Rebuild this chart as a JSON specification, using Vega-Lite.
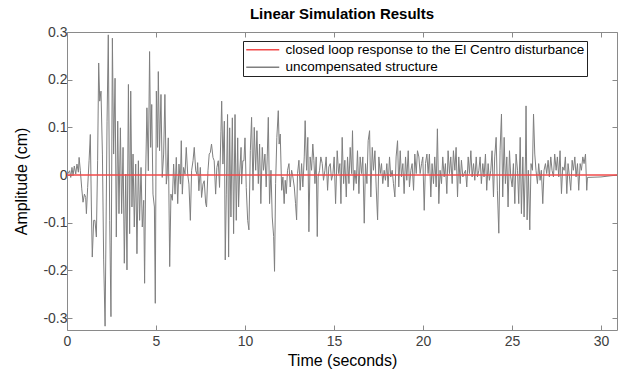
{
  "$schema": "https://vega.github.io/schema/vega-lite/v6.json",
  "width": 550,
  "height": 298,
  "autosize": "none",
  "padding": {"left": 67, "top": 32, "right": 10, "bottom": 49},
  "background": "white",
  "title": {"text": "Linear Simulation Results", "font": "Liberation Sans", "fontSize": 15, "fontWeight": "bold", "color": "black", "anchor": "middle", "offset": 3},
  "datasets": {
    "unc": [
      {"t":0,"v":0},{"t":0.15,"v":0.009},{"t":0.21,"v":-0.005},{"t":0.28,"v":0.016},{"t":0.34,"v":-0.001},{"t":0.41,"v":0.019},{"t":0.49,"v":0.002},{"t":0.56,"v":0.023},{"t":0.64,"v":0.006},{"t":0.68,"v":0.037},{"t":0.75,"v":0.009},{"t":0.83,"v":-0.029},{"t":0.90,"v":-0.057},{"t":0.98,"v":-0.040},{"t":1.05,"v":-0.047},{"t":1.09,"v":-0.081},{"t":1.16,"v":-0.026},{"t":1.24,"v":0.030},{"t":1.31,"v":0.085},{"t":1.37,"v":-0.067},{"t":1.42,"v":-0.172},{"t":1.50,"v":-0.095},{"t":1.57,"v":-0.095},{"t":1.65,"v":-0.130},{"t":1.72,"v":0.030},{"t":1.78,"v":0.235},{"t":1.84,"v":0.155},{"t":1.91,"v":0.176},{"t":1.99,"v":0.044},{"t":2.06,"v":-0.178},{"t":2.14,"v":-0.317},{"t":2.25,"v":0.113},{"t":2.32,"v":0.294},{"t":2.40,"v":-0.095},{"t":2.47,"v":-0.297},{"t":2.55,"v":0.287},{"t":2.62,"v":0.044},{"t":2.70,"v":0.203},{"t":2.77,"v":-0.130},{"t":2.85,"v":0.113},{"t":2.92,"v":-0.081},{"t":3.00,"v":0.099},{"t":3.07,"v":-0.081},{"t":3.15,"v":0.058},{"t":3.22,"v":-0.185},{"t":3.30,"v":0.002},{"t":3.37,"v":-0.199},{"t":3.45,"v":0.190},{"t":3.52,"v":-0.123},{"t":3.58,"v":0.176},{"t":3.65,"v":-0.067},{"t":3.71,"v":0.044},{"t":3.78,"v":-0.109},{"t":3.86,"v":0.023},{"t":3.93,"v":-0.165},{"t":4.01,"v":0.030},{"t":4.08,"v":-0.095},{"t":4.16,"v":0.016},{"t":4.23,"v":-0.109},{"t":4.31,"v":-0.053},{"t":4.36,"v":-0.227},{"t":4.42,"v":0.002},{"t":4.49,"v":0.141},{"t":4.57,"v":0.009},{"t":4.64,"v":0.259},{"t":4.70,"v":0.058},{"t":4.76,"v":0.148},{"t":4.83,"v":-0.040},{"t":4.91,"v":-0.067},{"t":4.96,"v":-0.269},{"t":5.02,"v":0.176},{"t":5.09,"v":0.058},{"t":5.13,"v":0.217},{"t":5.20,"v":0.051},{"t":5.28,"v":0.169},{"t":5.35,"v":-0.005},{"t":5.43,"v":0.044},{"t":5.50,"v":0.169},{"t":5.58,"v":-0.019},{"t":5.63,"v":0.002},{"t":5.69,"v":0.078},{"t":5.77,"v":-0.192},{"t":5.84,"v":-0.040},{"t":5.92,"v":-0.053},{"t":5.99,"v":0.023},{"t":6.07,"v":-0.040},{"t":6.14,"v":0.037},{"t":6.22,"v":-0.060},{"t":6.29,"v":0.023},{"t":6.37,"v":-0.019},{"t":6.42,"v":0.072},{"t":6.48,"v":-0.040},{"t":6.55,"v":0.016},{"t":6.63,"v":0.002},{"t":6.70,"v":0.058},{"t":6.78,"v":0.002},{"t":6.85,"v":-0.019},{"t":6.93,"v":-0.095},{"t":7.00,"v":0.009},{"t":7.08,"v":0.030},{"t":7.15,"v":0.058},{"t":7.23,"v":0.009},{"t":7.30,"v":0.002},{"t":7.34,"v":0.026},{"t":7.41,"v":-0.033},{"t":7.49,"v":0.016},{"t":7.56,"v":-0.047},{"t":7.64,"v":-0.019},{"t":7.71,"v":-0.012},{"t":7.79,"v":-0.059},{"t":7.84,"v":-0.067},{"t":7.92,"v":0.009},{"t":7.99,"v":0.044},{"t":8.05,"v":0.047},{"t":8.12,"v":0.065},{"t":8.20,"v":0.037},{"t":8.27,"v":0.030},{"t":8.35,"v":-0.040},{"t":8.42,"v":0.016},{"t":8.50,"v":0.030},{"t":8.57,"v":-0.026},{"t":8.65,"v":0.092},{"t":8.69,"v":0.155},{"t":8.76,"v":0.023},{"t":8.84,"v":0.113},{"t":8.89,"v":-0.178},{"t":8.95,"v":-0.040},{"t":9.02,"v":0.127},{"t":9.08,"v":-0.172},{"t":9.14,"v":0.099},{"t":9.21,"v":-0.088},{"t":9.29,"v":0.120},{"t":9.36,"v":-0.123},{"t":9.44,"v":0.127},{"t":9.51,"v":-0.095},{"t":9.59,"v":0.078},{"t":9.64,"v":-0.067},{"t":9.70,"v":0.002},{"t":9.78,"v":0.058},{"t":9.81,"v":-0.019},{"t":9.88,"v":0.030},{"t":9.94,"v":0.030},{"t":10.00,"v":0.078},{"t":10.07,"v":-0.026},{"t":10.15,"v":-0.095},
      {"t":10.22,"v":-0.115},{"t":10.30,"v":0.051},{"t":10.37,"v":0.121},{"t":10.45,"v":-0.032},{"t":10.52,"v":0.100},{"t":10.60,"v":0.010},{"t":10.67,"v":0.093},{"t":10.75,"v":-0.018},{"t":10.82,"v":0.065},{"t":10.89,"v":-0.060},{"t":10.97,"v":0.058},{"t":11.04,"v":0.010},{"t":11.12,"v":0.044},{"t":11.19,"v":-0.025},{"t":11.25,"v":0.038},{"t":11.31,"v":0.121},{"t":11.38,"v":-0.060},{"t":11.46,"v":0.010},{"t":11.53,"v":-0.088},{"t":11.61,"v":-0.129},{"t":11.66,"v":-0.202},{"t":11.72,"v":-0.018},{"t":11.79,"v":0.079},{"t":11.87,"v":0.135},{"t":11.92,"v":0.065},{"t":11.98,"v":0.086},{"t":12.06,"v":-0.032},{"t":12.13,"v":-0.004},{"t":12.20,"v":-0.060},{"t":12.26,"v":-0.011},{"t":12.32,"v":-0.039},{"t":12.39,"v":0.010},{"t":12.47,"v":0.024},{"t":12.54,"v":-0.025},{"t":12.62,"v":0.010},{"t":12.69,"v":-0.004},{"t":12.77,"v":-0.025},{"t":12.84,"v":-0.060},{"t":12.90,"v":-0.094},{"t":12.95,"v":0.003},{"t":13.03,"v":0.031},{"t":13.10,"v":-0.032},{"t":13.18,"v":0.024},{"t":13.25,"v":-0.025},{"t":13.33,"v":0.038},{"t":13.38,"v":0.114},{"t":13.46,"v":0.010},{"t":13.53,"v":0.079},{"t":13.59,"v":-0.119},{"t":13.66,"v":0.038},{"t":13.74,"v":0.010},{"t":13.81,"v":0.065},{"t":13.87,"v":0.031},{"t":13.93,"v":-0.018},{"t":14.00,"v":0.038},{"t":14.06,"v":-0.129},{"t":14.11,"v":-0.004},{"t":14.19,"v":0.010},{"t":14.26,"v":0.038},{"t":14.34,"v":0.024},{"t":14.41,"v":-0.011},{"t":14.49,"v":0.010},{"t":14.56,"v":0.038},{"t":14.64,"v":-0.032},{"t":14.71,"v":0.017},{"t":14.79,"v":0.024},{"t":14.86,"v":-0.011},{"t":14.94,"v":0.003},{"t":15.01,"v":0.038},{"t":15.09,"v":-0.060},{"t":15.18,"v":0.051},
      {"t":15.26,"v":0.003},{"t":15.33,"v":0.024},{"t":15.39,"v":-0.060},{"t":15.46,"v":0.079},{"t":15.54,"v":-0.018},{"t":15.61,"v":0.031},{"t":15.69,"v":-0.046},{"t":15.76,"v":0.038},{"t":15.84,"v":-0.018},{"t":15.91,"v":0.058},{"t":15.99,"v":0.003},{"t":16.04,"v":0.093},{"t":16.10,"v":-0.032},{"t":16.17,"v":0.010},{"t":16.25,"v":-0.018},{"t":16.32,"v":0.051},{"t":16.40,"v":-0.039},{"t":16.47,"v":0.038},{"t":16.55,"v":0.003},{"t":16.62,"v":0.038},{"t":16.70,"v":-0.101},{"t":16.77,"v":0.024},{"t":16.85,"v":-0.018},{"t":16.92,"v":0.072},{"t":17.00,"v":0.093},{"t":17.07,"v":-0.046},{"t":17.15,"v":0.058},{"t":17.22,"v":0.010},{"t":17.30,"v":0.051},{"t":17.37,"v":-0.025},{"t":17.45,"v":-0.094},{"t":17.52,"v":0.038},{"t":17.60,"v":0.003},{"t":17.67,"v":0.024},{"t":17.74,"v":-0.018},{"t":17.82,"v":0.010},{"t":17.89,"v":-0.011},{"t":17.97,"v":0.024},{"t":18.04,"v":-0.025},{"t":18.12,"v":0.038},{"t":18.19,"v":-0.004},{"t":18.27,"v":0.010},{"t":18.34,"v":-0.018},{"t":18.42,"v":-0.046},{"t":18.49,"v":0.038},{"t":18.57,"v":0.072},{"t":18.64,"v":-0.025},{"t":18.72,"v":0.051},{"t":18.79,"v":-0.004},{"t":18.87,"v":0.024},{"t":18.94,"v":-0.039},{"t":19.02,"v":0.038},{"t":19.09,"v":-0.011},{"t":19.17,"v":0.051},{"t":19.24,"v":-0.025},{"t":19.32,"v":0.010},{"t":19.39,"v":0.024},{"t":19.47,"v":-0.032},{"t":19.54,"v":0.044},{"t":19.62,"v":0.003},{"t":19.69,"v":0.051},{"t":19.77,"v":0.038},{"t":19.84,"v":0.003},{"t":19.92,"v":0.024},{"t":19.99,"v":0.038},{"t":20.07,"v":-0.074},{"t":20.14,"v":0.024},{"t":20.22,"v":0.044},{"t":20.29,"v":0.003},
      {"t":20.36,"v":0.044},{"t":20.44,"v":-0.046},{"t":20.51,"v":0.024},{"t":20.59,"v":-0.018},{"t":20.66,"v":0.038},{"t":20.74,"v":-0.025},{"t":20.81,"v":0.097},{"t":20.89,"v":-0.060},{"t":20.96,"v":0.010},{"t":21.04,"v":-0.018},{"t":21.11,"v":0.038},{"t":21.19,"v":-0.004},{"t":21.26,"v":0.024},{"t":21.34,"v":-0.039},{"t":21.41,"v":0.051},{"t":21.49,"v":0.003},{"t":21.56,"v":0.038},{"t":21.64,"v":-0.018},{"t":21.71,"v":0.051},{"t":21.79,"v":0.010},{"t":21.86,"v":0.058},{"t":21.94,"v":-0.046},{"t":22.01,"v":0.038},{"t":22.09,"v":-0.018},{"t":22.16,"v":0.031},{"t":22.24,"v":-0.004},{"t":22.31,"v":0.003},{"t":22.39,"v":0.010},{"t":22.46,"v":-0.025},{"t":22.54,"v":0.038},{"t":22.61,"v":0.003},{"t":22.69,"v":0.051},{"t":22.76,"v":-0.004},{"t":22.84,"v":0.024},{"t":22.91,"v":-0.011},{"t":22.99,"v":0.038},{"t":23.06,"v":-0.004},{"t":23.14,"v":0.010},{"t":23.21,"v":0.038},{"t":23.28,"v":-0.018},{"t":23.36,"v":0.024},{"t":23.43,"v":-0.004},{"t":23.51,"v":0.044},{"t":23.58,"v":-0.032},{"t":23.66,"v":0.024},{"t":23.73,"v":-0.011},{"t":23.81,"v":0.010},{"t":23.88,"v":0.051},{"t":23.96,"v":-0.046},{"t":24.03,"v":0.038},{"t":24.11,"v":0.079},{"t":24.18,"v":-0.032},{"t":24.26,"v":-0.122},{"t":24.33,"v":0.051},{"t":24.41,"v":0.128},{"t":24.48,"v":-0.046},{"t":24.56,"v":0.079},{"t":24.63,"v":-0.018},{"t":24.71,"v":0.038},{"t":24.78,"v":-0.067},{"t":24.86,"v":0.051},{"t":24.93,"v":-0.004},{"t":25.01,"v":-0.025},{"t":25.08,"v":0.024},{"t":25.16,"v":-0.060},{"t":25.23,"v":0.044},{"t":25.31,"v":0.010},
      {"t":25.38,"v":-0.060},{"t":25.46,"v":0.079},{"t":25.53,"v":-0.081},{"t":25.61,"v":0.038},{"t":25.68,"v":-0.088},{"t":25.76,"v":0.038},{"t":25.79,"v":0.145},{"t":25.85,"v":-0.094},{"t":25.92,"v":0.010},{"t":26.00,"v":-0.115},{"t":26.07,"v":0.024},{"t":26.15,"v":0.010},{"t":26.21,"v":0.128},{"t":26.28,"v":0.044},{"t":26.35,"v":0.010},{"t":26.43,"v":-0.018},{"t":26.50,"v":0.024},{"t":26.58,"v":-0.011},{"t":26.65,"v":0.010},{"t":26.73,"v":-0.060},{"t":26.80,"v":0.010},{"t":26.88,"v":0.024},{"t":26.95,"v":0.003},{"t":27.03,"v":0.031},{"t":27.10,"v":-0.004},{"t":27.18,"v":0.038},{"t":27.25,"v":0.010},{"t":27.33,"v":-0.004},{"t":27.40,"v":0.044},{"t":27.48,"v":0.010},{"t":27.55,"v":0.038},{"t":27.63,"v":-0.004},{"t":27.70,"v":0.051},{"t":27.78,"v":-0.039},{"t":27.85,"v":0.017},{"t":27.93,"v":0.010},{"t":28.00,"v":0.038},{"t":28.08,"v":-0.039},{"t":28.15,"v":0.024},{"t":28.23,"v":-0.004},{"t":28.30,"v":-0.032},{"t":28.38,"v":0.031},{"t":28.45,"v":0.010},{"t":28.53,"v":0.038},{"t":28.60,"v":-0.004},{"t":28.68,"v":0.024},{"t":28.75,"v":-0.032},{"t":28.83,"v":0.024},{"t":28.90,"v":0.010},{"t":28.98,"v":0.038},{"t":29.05,"v":0.024},{"t":29.13,"v":0.044},{"t":29.20,"v":-0.032},{"t":29.24,"v":-0.005},{"t":30.0,"v":-0.004},{"t":30.9,"v":0}
    ],
    "cl": [
      {"t":0,"v":0},{"t":5,"v":0},{"t":10,"v":0},{"t":15,"v":0},{"t":20,"v":0},{"t":25,"v":0},{"t":30,"v":0},{"t":30.9,"v":0}
    ]
  },
  "layer": [
    {
      "data": {"name": "unc"},
      "mark": {"type": "line", "strokeWidth": 1, "clip": true},
      "encoding": {
        "x": {"field": "t", "type": "quantitative",
              "scale": {"domain": [0, 30.9], "nice": false, "zero": false},
              "axis": {"orient": "bottom", "values": [0,5,10,15,20,25,30], "title": "Time (seconds)", "tickSize": -5, "labelPadding": 9, "titlePadding": 4}},
        "y": {"field": "v", "type": "quantitative",
              "scale": {"domain": [-0.325, 0.3], "nice": false, "zero": false},
              "axis": {"orient": "left", "values": [-0.3,-0.2,-0.1,0,0.1,0.2,0.3], "title": "Amplitude (cm)", "tickSize": -5, "labelPadding": 5, "titlePadding": 13,
                       "titleFontSize": 16,
                       "labelExpr": "(datum.value < -0.0001 ? '-' : '') + format(abs(datum.value), '.1~f')"}},
        "color": {"datum": "uncompensated structure", "type": "nominal",
                  "scale": {"domain": ["closed loop response to the El Centro disturbance", "uncompensated structure"], "range": ["#f24a4a", "#7f7f7f"]},
                  "legend": {"title": null, "orient": "none", "legendX": 176, "legendY": 9,
                             "symbolType": "M-3,0H3", "symbolSize": 121, "symbolStrokeWidth": 1.5, "symbolOffset": 11,
                             "labelFont": "Liberation Sans", "labelFontSize": 13.5, "labelColor": "black", "labelLimit": 500, "labelOffset": 16,
                             "rowPadding": 2.5, "padding": 2, "strokeColor": "#222222", "fillColor": "white"}}
      }
    },
    {
      "data": {"name": "cl"},
      "mark": {"type": "line", "strokeWidth": 1.5},
      "encoding": {
        "x": {"field": "t", "type": "quantitative",
              "axis": {"orient": "top", "values": [0,5,10,15,20,25,30], "labels": false, "title": null, "tickSize": -5}},
        "y": {"field": "v", "type": "quantitative",
              "axis": {"orient": "right", "values": [-0.3,-0.2,-0.1,0,0.1,0.2,0.3], "labels": false, "title": null, "tickSize": -5}},
        "color": {"datum": "closed loop response to the El Centro disturbance", "type": "nominal"}
      }
    }
  ],
  "resolve": {"axis": {"x": "independent", "y": "independent"}},
  "config": {
    "view": {"stroke": null},
    "axis": {"grid": false, "domainColor": "#8a8a8a", "tickColor": "#8a8a8a", "domainWidth": 1, "tickWidth": 1,
             "labelFont": "Liberation Sans", "labelFontSize": 14, "labelColor": "#404040", "labelFlush": false, "labelOverlap": false,
             "titleFont": "Liberation Sans", "titleFontSize": 16, "titleFontWeight": "normal", "titleColor": "black"}
  }
}
